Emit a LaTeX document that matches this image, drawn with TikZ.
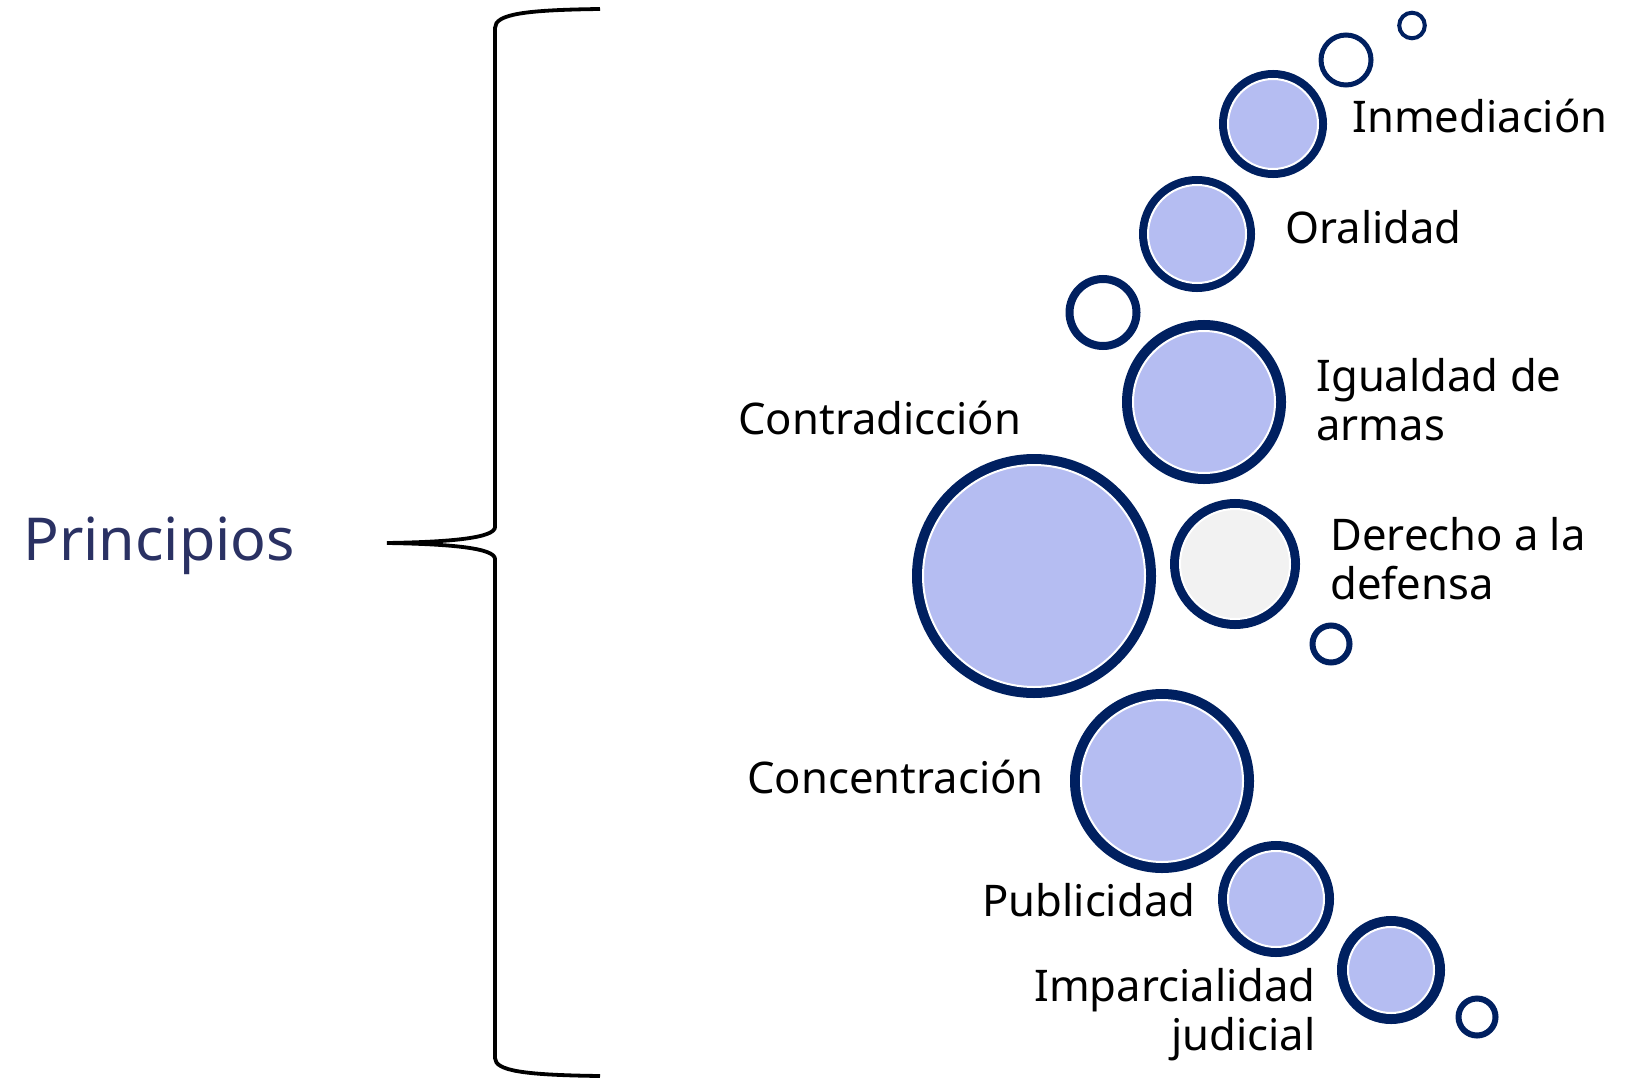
\documentclass[tikz,border=0pt]{standalone}
\usepackage{fontspec}
\setmainfont{Noto Sans}
\definecolor{ringnavy}{HTML}{002060}
\definecolor{bubble}{HTML}{B5BDF2}
\definecolor{defgray}{HTML}{F2F2F2}
\definecolor{titleblue}{HTML}{2A3163}
\tikzset{
  bub/.style={circle, inner sep=0pt, minimum size=#1, fill=bubble, draw=white, line width=1pt},
  rim/.style={preaction={draw=ringnavy, line width=#1}},
  dot/.style={circle, inner sep=0pt, minimum size=#1, draw=ringnavy, fill=white},
  lbl/.style={inner sep=0pt, font=\fontsize{21.8}{24.5}\selectfont},
}
\begin{document}
\begin{tikzpicture}[x=0.5pt, y=-0.5pt]
    \useasboundingbox (0,0) rectangle (1627,1081);
    \node[anchor=base west, inner sep=0pt, text=titleblue, font=\fontsize{29.6}{34}\selectfont] (princ) at (23,560) {Principios};
    \coordinate (tip) at (387,543);
    \draw[line width=1.9pt] (600,9) .. controls (525,10) and (495,14) .. (495,28)
    -- (495,527) .. controls (495,538) and (450,542) .. (tip)
    .. controls (450,544) and (495,548) .. (495,559)
    -- (495,1058) .. controls (495,1071) and (525,1075) .. (600,1076);
    \node[dot=12.8pt, line width=2pt] (d1) at (1412,25.5) {};
    \node[dot=25pt, line width=2.5pt] (d2) at (1346,60) {};
    \node[dot=33.5pt, line width=4pt] (d3) at (1103,312.5) {};
    \node[dot=18.5pt, line width=3pt] (d4) at (1331,644) {};
    \node[dot=18.5pt, line width=3pt] (d5) at (1477,1017) {};
    \node[bub=45pt, rim=9pt] (inm) at (1273,124) {};
    \node[bub=49pt, rim=9pt] (ora) at (1197,234) {};
    \node[bub=71pt, rim=11pt] (igu) at (1204,402) {};
    \node[bub=111pt, rim=11pt] (con) at (1034,576) {};
    \node[bub=55pt, rim=10pt, fill=defgray] (der) at (1235,564) {};
    \node[bub=81pt, rim=11pt] (cnc) at (1162,781) {};
    \node[bub=48pt, rim=10pt] (pub) at (1276,899) {};
    \node[bub=43pt, rim=11pt] (imp) at (1391,970) {};
    \node[lbl, anchor=base west] (tinm) at (1352,133) {Inmediación};
    \node[lbl, anchor=base west] (tora) at (1285,243) {Oralidad};
    \node[lbl, anchor=base west, align=left] (tigu) at (1316,440) {Igualdad de\\armas};
    \node[lbl, anchor=base west] (tcon) at (738,434) {Contradicción};
    \node[lbl, anchor=base west, align=left] (tder) at (1330,599) {Derecho a la\\defensa};
    \node[lbl, anchor=base west] (tcnc) at (747,793) {Concentración};
    \node[lbl, anchor=base west] (tpub) at (982,916) {Publicidad};
    \node[lbl, anchor=base east, align=right] (timp) at (1316,1050) {Imparcialidad\\judicial};
\end{tikzpicture}
\end{document}
